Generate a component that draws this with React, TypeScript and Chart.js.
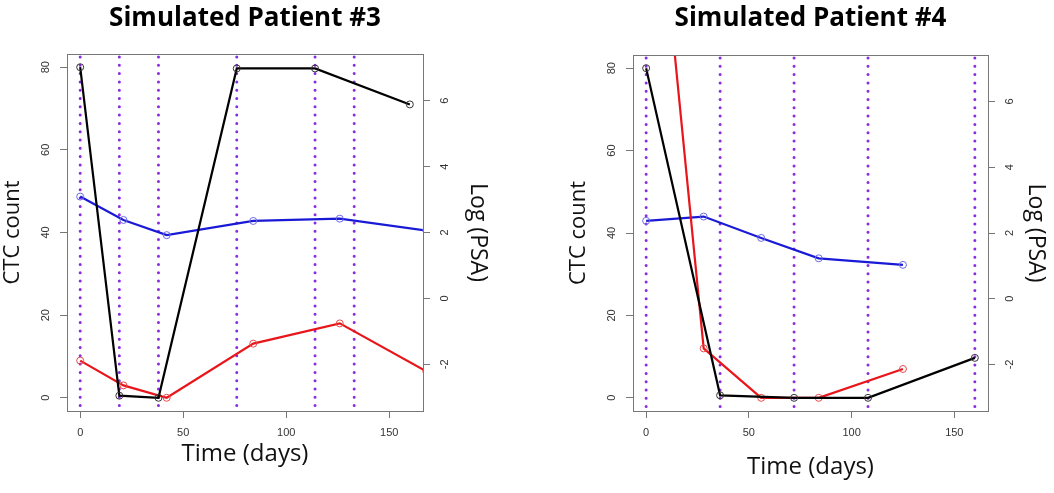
import React, { useEffect, useRef } from 'react';
import { Chart, registerables } from 'chart.js';
Chart.register(...registerables);

// ---- Simulated Patient #3 ----
const p3CtcDays = [0, 19, 38, 76, 114, 160];
const p3Ctc = [80, 0.5, 0, 79.7, 79.7, 71];
const p3RedDays = [0, 21, 42, 84, 126, 168];
const p3Red = [9, 3, 0, 13.1, 18, 6.4];
const p3PsaDays = [0, 21, 42, 84, 126, 168];
const p3Psa = [3.09, 2.38, 1.92, 2.35, 2.42, 2.06];
const p3Treat = [0, 19, 38, 76, 114, 133];

// ---- Simulated Patient #4 ----
const p4CtcDays = [0, 36, 72, 108, 160];
const p4Ctc = [80, 0.6, 0, 0, 9.7];
const p4RedDays = [0, 28, 56, 84, 125];
const p4Red = [154, 12, 0, 0, 7];
const p4PsaDays = [0, 28, 56, 84, 125];
const p4Psa = [2.37, 2.5, 1.85, 1.23, 1.03];
const p4Treat = [0, 36, 72, 108, 160];

// ---- Axis ticks ----
const xTicks = [0, 50, 100, 150];
const ctcTicks = [0, 20, 40, 60, 80];
const psaTicks = [-2, 0, 2, 4, 6];

const BLACK = '#000000';
const RED = '#e8161b';
const BLUE = '#1a1ad6';
const PURPLE = '#8a2be2';
const AXIS = '#777777';
const TICK_TEXT = '#333333';

const zip = (xs: number[], ys: number[]) => xs.map((x, i) => ({ x, y: ys[i] }));

const panelDecor = {
  id: 'panelDecor',
  beforeDatasetsDraw(chart: any, _args: any, opts: any) {
    const { ctx, chartArea: a, scales } = chart;
    const x = scales.x;
    ctx.save();
    ctx.beginPath();
    ctx.rect(a.left, a.top, a.right - a.left, a.bottom - a.top);
    ctx.clip();
    ctx.strokeStyle = opts.color;
    ctx.lineWidth = 3;
    ctx.lineCap = 'round';
    ctx.setLineDash([0, 8.3]);
    for (const d of opts.days) {
      const px = x.getPixelForValue(d);
      ctx.beginPath();
      ctx.moveTo(px, a.top + 3);
      ctx.lineTo(px, a.bottom);
      ctx.stroke();
    }
    ctx.restore();
  },
  afterDraw(chart: any) {
    const { ctx, chartArea: a } = chart;
    ctx.save();
    ctx.strokeStyle = AXIS;
    ctx.lineWidth = 1;
    ctx.strokeRect(Math.round(a.left) + 0.5, Math.round(a.top) + 0.5, Math.round(a.right - a.left), Math.round(a.bottom - a.top));
    ctx.restore();
  },
};

const lineDs = (data: any[], color: string, ptColor: string, axis: string) => ({
  data,
  yAxisID: axis,
  borderColor: color,
  borderWidth: 2.2,
  pointRadius: 3.5,
  pointBorderWidth: 1,
  pointBorderColor: ptColor,
  pointBackgroundColor: 'rgba(0,0,0,0)',
  tension: 0,
  clip: 0,
  fill: false,
});

const setTicks = (vals: number[]) => (axis: any) => {
  axis.ticks = vals.map((v) => ({ value: v }));
};

interface PanelSpec {
  title: string;
  ctcDays: number[]; ctc: number[];
  redDays: number[]; red: number[];
  psaDays: number[]; psa: number[];
  treat: number[];
  yWidth: number; y1Width: number;
  yTitlePad: number; y1TitlePad: number;
  xTitlePad: number; titleBottomPad: number;
}

function makeConfig(p: PanelSpec): any {
  const tickFont = { family: "'Liberation Sans', Arial, sans-serif", size: 11 };
  return {
    type: 'line',
    data: {
      datasets: [
        lineDs(zip(p.ctcDays, p.ctc), BLACK, '#333333', 'y'),
        lineDs(zip(p.redDays, p.red), RED, '#e84a4a', 'y'),
        lineDs(zip(p.psaDays, p.psa), BLUE, '#6a6ae8', 'y1'),
      ],
    },
    options: {
      animation: false,
      responsive: false,
      devicePixelRatio: 1,
      layout: { padding: 0 },
      events: [],
      plugins: {
        legend: { display: false },
        tooltip: { enabled: false },
        title: {
          display: true,
          text: p.title,
          fullSize: false,
          color: '#000',
          font: { family: "'Open Sans', sans-serif", size: 26, weight: 'bold' },
          padding: { top: 3.4, bottom: p.titleBottomPad },
        },
        panelDecor: { days: p.treat, color: PURPLE },
      },
      scales: {
        x: {
          type: 'linear',
          min: -6.4,
          max: 166.4,
          afterBuildTicks: setTicks(xTicks),
          afterFit: (s: any) => { s.height = 82; },
          border: { display: false },
          grid: { drawOnChartArea: false, drawTicks: true, tickLength: 7, color: AXIS },
          ticks: { font: tickFont, color: TICK_TEXT, padding: 8, maxRotation: 0, autoSkip: false },
          title: {
            display: true,
            text: 'Time (days)',
            color: '#111',
            font: { family: "'Open Sans', sans-serif", size: 24 },
            padding: { top: 0, bottom: p.xTitlePad },
          },
        },
        y: {
          type: 'linear',
          position: 'left',
          min: -3.2,
          max: 83.2,
          afterBuildTicks: setTicks(ctcTicks),
          afterFit: (s: any) => { s.width = p.yWidth; },
          border: { display: false },
          grid: { drawOnChartArea: false, drawTicks: true, tickLength: 7, color: AXIS },
          ticks: { font: tickFont, color: TICK_TEXT, padding: 7.7, minRotation: 90, maxRotation: 90, crossAlign: 'center', autoSkip: false },
          title: {
            display: true,
            text: 'CTC count',
            color: '#111',
            font: { family: "'Open Sans', sans-serif", size: 22 },
            padding: { top: p.yTitlePad, bottom: 0 },
          },
        },
        y1: {
          type: 'linear',
          position: 'right',
          min: -3.417,
          max: 7.417,
          afterBuildTicks: setTicks(psaTicks),
          afterFit: (s: any) => { s.width = p.y1Width; },
          border: { display: false },
          grid: { drawOnChartArea: false, drawTicks: true, tickLength: 7, color: AXIS },
          ticks: { font: tickFont, color: TICK_TEXT, padding: 10, minRotation: 90, maxRotation: 90, crossAlign: 'center', autoSkip: false },
          title: {
            display: true,
            text: 'Log (PSA)',
            color: '#111',
            font: { family: "'Open Sans', sans-serif", size: 23 },
            padding: { top: p.y1TitlePad, bottom: 0 },
          },
        },
      },
    },
    plugins: [panelDecor],
  };
}

const panel3: PanelSpec = {
  title: 'Simulated Patient #3',
  ctcDays: p3CtcDays, ctc: p3Ctc,
  redDays: p3RedDays, red: p3Red,
  psaDays: p3PsaDays, psa: p3Psa,
  treat: p3Treat,
  yWidth: 67, y1Width: 104,
  yTitlePad: 0, y1TitlePad: 35.2,
  xTitlePad: 24.6, titleBottomPad: 19.4,
};

const panel4: PanelSpec = {
  title: 'Simulated Patient #4',
  ctcDays: p4CtcDays, ctc: p4Ctc,
  redDays: p4RedDays, red: p4Red,
  psaDays: p4PsaDays, psa: p4Psa,
  treat: p4Treat,
  yWidth: 106, y1Width: 66,
  yTitlePad: 38.8, y1TitlePad: 4.2,
  xTitlePad: 11.6, titleBottomPad: 20.4,
};

function Panel({ spec, left }: { spec: PanelSpec; left: number }) {
  const ref = useRef<HTMLCanvasElement>(null);
  useEffect(() => {
    if (!ref.current) return;
    const chart = new Chart(ref.current, makeConfig(spec));
    return () => chart.destroy();
  }, [spec]);
  return (
    <canvas
      ref={ref}
      width={527}
      height={493}
      style={{ position: 'absolute', left, top: 0, width: 527, height: 493 }}
    />
  );
}

export default function App() {
  return (
    <div style={{ position: 'fixed', left: 0, top: 0, width: 1054, height: 493, background: '#fff', overflow: 'hidden' }}>
      <Panel spec={panel3} left={0} />
      <Panel spec={panel4} left={527} />
    </div>
  );
}
